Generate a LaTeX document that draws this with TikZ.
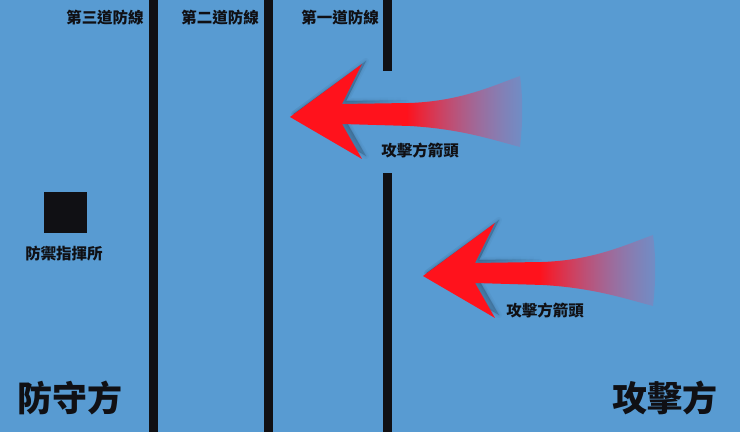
\documentclass[tikz,border=0pt]{standalone}
\usepackage{fontspec}
\newfontfamily\cjk{Noto Sans CJK TC}
\usetikzlibrary{fadings}
\definecolor{bgblue}{RGB}{88,155,210}
\definecolor{arrowred}{RGB}{255,18,28}
\definecolor{arrowpink}{RGB}{205,90,150}
\definecolor{inkblack}{RGB}{16,16,20}

\tikzfading[name=tailfade, left color=transparent!0, right color=transparent!80, middle color=transparent!0]
\tikzfading[name=shadowfade, left color=transparent!0, right color=transparent!100, middle color=transparent!100]

\tikzset{
  defline/.style={line width=9pt, inkblack},
  smalltxt/.style={font=\cjk\bfseries\fontsize{15.5}{18}\selectfont, text=inkblack, inner sep=0.75pt},
  bigtxt/.style={font=\cjk\bfseries\fontsize{35}{40}\selectfont, text=inkblack, inner sep=0.75pt},
  attackarrow/.pic={
    % soft shadow
    \foreach \w in {6,3,1}
      \fill[black, fill opacity=0.14, draw=black, draw opacity=0.07, line width=\w pt, line join=round, path fading=shadowfade]
        (4,3) -- (76,-39) .. controls (66,-22) .. (56,-4) -- (124,-6) .. controls (174,-9) and (204,-19) .. (234,-27)
        .. controls (237,-2) and (237,23) .. (234,44) .. controls (204,33) and (174,19) .. (124,17) -- (56,16)
        .. controls (66,36) .. (76,56) -- cycle;
    % arrow body
    \shade[left color=arrowred, right color=arrowpink, middle color=arrowred, path fading=tailfade]
      (0,0) -- (72,-42) .. controls (62,-25) .. (52,-7) -- (120,-9) .. controls (170,-12) and (200,-22) .. (230,-30)
      .. controls (233,-5) and (233,20) .. (230,41) .. controls (200,30) and (170,16) .. (120,14) -- (52,13)
      .. controls (62,33) .. (72,53) -- cycle;
  }
}

\begin{document}
\begin{tikzpicture}[x=1pt,y=1pt,yscale=-1]
  \useasboundingbox (0,0) rectangle (740,432);
  \fill[bgblue] (0,0) rectangle (740,432);

  % defence lines
  \draw[defline] (153.5,0) -- (153.5,432);
  \draw[defline] (268,0) -- (268,432);
  \draw[defline] (387.5,0) -- (387.5,71);
  \draw[defline] (387.5,173) -- (387.5,432);

  % line labels
  \node[smalltxt] (linethree) at (105,18) {第三道防線};
  \node[smalltxt] (linetwo) at (220,18) {第二道防線};
  \node[smalltxt] (lineone) at (340,18) {第一道防線};

  % command post
  \node[fill=inkblack, minimum width=43pt, minimum height=41pt, inner sep=0pt] (cmdpost) at (65.5,212.5) {};
  \node[smalltxt] (cmdlabel) at (64,254) {防禦指揮所};

  % attack arrows
  \pic (arrowA) at (290,117) {attackarrow};
  \pic (arrowB) at (423,276) {attackarrow};
  \node[smalltxt] (arrowAlabel) at (420,151) {攻擊方箭頭};
  \node[smalltxt] (arrowBlabel) at (545,311) {攻擊方箭頭};

  % sides
  \node[bigtxt] (defender) at (70,398) {防守方};
  \node[bigtxt] (attacker) at (665,398) {攻擊方};
\end{tikzpicture}
\end{document}
